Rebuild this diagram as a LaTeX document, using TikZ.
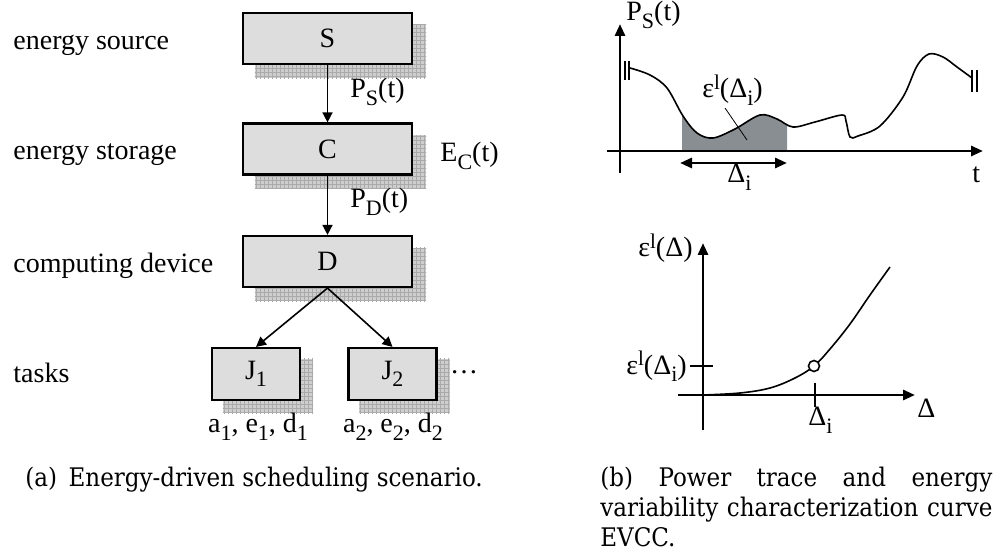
\documentclass[tikz,border=0pt]{standalone}
\usepackage{fontspec}
\setmainfont{Liberation Serif}
\newfontfamily\capfont{DejaVu Serif Condensed}
\usetikzlibrary{arrows.meta,backgrounds,calc}
\definecolor{boxgray}{RGB}{221,221,221}
\definecolor{shadowgray}{RGB}{206,206,206}
\definecolor{gridgray}{RGB}{170,170,170}
\definecolor{areagray}{RGB}{137,142,147}
\newcommand\mysub[1]{\raisebox{-3.6pt}{\fontsize{11}{12}\selectfont #1}}
\newcommand\mysup[1]{\raisebox{4.2pt}{\fontsize{10.5}{12}\selectfont #1}}
\newcommand\gridshadow[2]{%
  \begin{scope}[on background layer]
    \fill[shadowgray] ($(#1.north west)+(#2,#2)$) rectangle ($(#1.south east)+(#2,#2)$);
    \begin{scope}
      \clip ($(#1.north west)+(#2,#2)$) rectangle ($(#1.south east)+(#2,#2)$);
      \draw[gridgray,line width=0.25pt,step=2pt] ($(#1.north west)+(#2,#2)+(-5,-5)$) grid ($(#1.south east)+(#2,#2)+(5,5)$);
    \end{scope}
  \end{scope}}
\begin{document}
\begin{tikzpicture}[x=0.5pt,y=-0.5pt,
  font=\rmfamily\fontsize{14}{16}\selectfont,
  blk/.style={draw=black,line width=1.1pt,fill=boxgray,minimum width=84.5pt,minimum height=25.5pt,inner sep=0pt},
  tsk/.style={blk,minimum width=44pt,minimum height=26pt},
  conn/.style={line width=0.8pt,-{Triangle[length=5pt,width=5pt]}},
  axisarrow/.style={line width=1.4pt,-{Triangle[length=6pt,width=5pt]}},
  curve/.style={line width=0.8pt},
  lbl/.style={inner sep=0pt,anchor=base west},
  caption/.style={inner sep=0pt,anchor=base west,font=\capfont\fontsize{12.8}{15}\selectfont}]
\useasboundingbox (0,0) rectangle (998,556);

% ---------- (a) ----------
\node[lbl] (lsrc) at (13,50) {energy source};
\node[lbl] (lsto) at (13,160) {energy storage};
\node[lbl] (ldev) at (13,273) {computing device};
\node[lbl] (ltsk) at (13,383) {tasks};

\node[blk] (S) at (327.5,38.5) {S};
\node[blk] (C) at (327.5,149) {C};
\node[blk] (D) at (327.5,261.5) {D};
\node[tsk] (J1) at (256,374) {J\mysub{1}};
\node[tsk] (J2) at (392.5,374) {J\mysub{2}};
\gridshadow{S}{13}
\gridshadow{C}{13}
\gridshadow{D}{13}
\gridshadow{J1}{12}
\gridshadow{J2}{12}

\draw[conn] (S) -- (C);
\draw[conn] (C) -- (D);
\draw[conn] (D.south) -- (J1.north);
\draw[conn] (D.south) -- (J2.north);

\node[lbl] (ps) at (350,98) {P\mysub{S}(t)};
\node[lbl] (pd) at (350,208) {P\mysub{D}(t)};
\node[lbl] (ec) at (440,162) {E\mysub{C}(t)};
\node[inner sep=0pt,anchor=base] (dots) at (464,373) {\dots};
\node[inner sep=0pt,anchor=base] (par1) at (258,433) {a\mysub{1}, e\mysub{1}, d\mysub{1}};
\node[inner sep=0pt,anchor=base] (par2) at (393,433) {a\mysub{2}, e\mysub{2}, d\mysub{2}};

\node[caption] (capa) at (25,487) {(a)\hspace{0.45em}Energy-driven scheduling scenario.};

% ---------- (b) top: power trace ----------
\coordinate (ya0) at (620,173);
\coordinate (ya1) at (620,24);
\coordinate (xa0) at (607,151);
\coordinate (xa1) at (983,151);
\begin{scope}
  \clip (682,0) rectangle (787,151);
  \fill[areagray] plot[smooth,tension=0.55] coordinates {(630,68) (650,75) (667,88) (683,116) (697,133) (713,138) (735,129) (760,115) (777,119) (793,127) (815,122) (842,115) (846,121) (850,137) (858,136) (880,126) (903,97) (917,66) (929,54) (943,57) (957,67) (972,78)} -- (972,151) -- (630,151) -- cycle;
\end{scope}
\draw[curve] plot[smooth,tension=0.55] coordinates {(630,68) (650,75) (667,88) (683,116) (697,133) (713,138) (735,129) (760,115) (777,119) (793,127) (815,122) (842,115) (846,121) (850,137) (858,136) (880,126) (903,97) (917,66) (929,54) (943,57) (957,67) (972,78)};
\draw[axisarrow] (ya0) -- (ya1);
\draw[axisarrow] (xa0) -- (xa1);
\draw[line width=0.7pt] (625,61) -- (625,80) (629,61) -- (629,80);
\draw[line width=0.7pt] (972,70) -- (972,92) (977,70) -- (977,92);
\coordinate (dl) at (680,163);
\coordinate (dr) at (787,163);
\draw[line width=1.4pt,{Triangle[length=6pt,width=5pt]}-{Triangle[length=6pt,width=5pt]}] (dl) -- (dr);
\node[lbl] (pst) at (626,21) {P\mysub{S}(t)};
\node[lbl] (tl) at (972,183) {t};
\node[lbl] (dil) at (727,183) {Δ\mysub{i}};
\node[lbl] (eps) at (702,98) {ε\mysup{l}(Δ\mysub{i})};
\coordinate (lead) at (747,140);
\draw[line width=0.4pt] (725,108) -- (lead);

% ---------- (b) bottom: EVCC ----------
\coordinate (yb0) at (703,430);
\coordinate (yb1) at (703,243);
\coordinate (xb0) at (678,395);
\coordinate (xb1) at (915,395);
\draw[axisarrow] (yb0) -- (yb1);
\draw[axisarrow] (xb0) -- (xb1);
\draw[curve] plot[smooth,tension=0.6] coordinates {(703,395) (740,393) (770,388) (795,378) (814,366) (830,349) (850,324) (870,295) (890,267)};
\draw[line width=1.1pt] (690,366) -- (713,366);
\draw[line width=1.1pt] (815,383) -- (815,407);
\node[circle,draw,line width=0.8pt,fill=white,minimum size=5.5pt,inner sep=0pt] (pt) at (814,366) {};
\node[lbl] (epsd) at (638,257) {ε\mysup{l}(Δ)};
\node[lbl] (dlab) at (917,417) {Δ};
\node[lbl] (epsi) at (626,374) {ε\mysup{l}(Δ\mysub{i})};
\node[lbl] (dil2) at (808,426) {Δ\mysub{i}};

\node[caption] (capb) at (600,487) {\parbox[t]{196pt}{\makebox[196pt][s]{(b) Power trace and energy}\\\makebox[196pt][s]{variability characterization curve}\\EVCC.}};
\end{tikzpicture}
\end{document}
